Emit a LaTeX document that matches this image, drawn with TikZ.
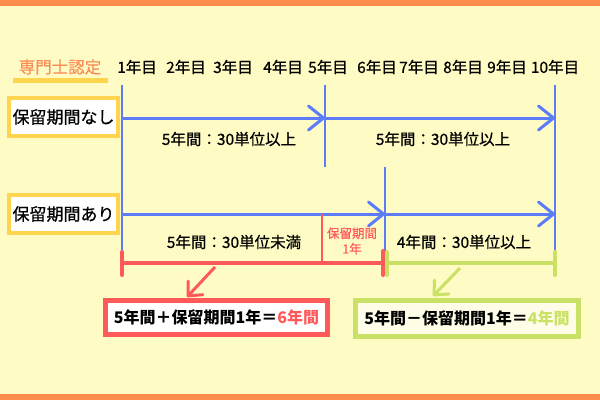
\documentclass[tikz,border=0pt]{standalone}
\usepackage{fontspec}
\setmainfont{Noto Sans CJK JP}
\newfontfamily\medfont{Noto Sans CJK JP}[FakeBold=0.6]
\usetikzlibrary{arrows.meta}
\definecolor{bgyellow}{HTML}{FFFBC4}
\definecolor{bandorange}{HTML}{FF8C4A}
\definecolor{headorange}{HTML}{FA8B55}
\definecolor{boxyellow}{HTML}{FFD550}
\definecolor{timeblue}{HTML}{5C7CFA}
\definecolor{holdred}{HTML}{FF5A5A}
\definecolor{restgreen}{HTML}{C9E265}
\begin{document}
\begin{tikzpicture}[
        x=1pt, y=-1pt,
        lbl/.style={font=\fontsize{15.5}{15.5}\selectfont\medfont, inner sep=0pt},
        rowbox/.style={draw=boxyellow, line width=4pt, fill=white, minimum width=109pt, minimum height=38pt, inner sep=0pt, font=\fontsize{17}{17}\selectfont\medfont},
        sumbox/.style={line width=5pt, inner sep=0pt, font=\fontsize{16}{16}\selectfont\bfseries},
        tline/.style={timeblue, line width=2.5pt},
        arr/.style={timeblue, line width=3pt, -{Straight Barb[length=15pt, width=24pt, round]}},
        bar/.style={line width=4pt, line cap=round},
        darr/.style={line width=3pt, -{Straight Barb[length=11pt, width=20pt, round]}}
    ]
        \fill[bgyellow] (0,0) rectangle (600,400);
        \fill[bandorange] (0,0) rectangle (600,6);
        \fill[bandorange] (0,394) rectangle (600,400);
        \useasboundingbox (0,0) rectangle (600,400);

        \node[font=\fontsize{16.5}{16.5}\selectfont\medfont, text=headorange, inner sep=0pt] (head) at (60,67) {専門士認定};
        \draw[boxyellow, line width=5pt] (13,80) -- (108,80);

        \foreach \x [count=\i] in {137,186,233,283,328,377,419,463,507,555}
            \node[lbl] (y\i) at (\x,67) {{\i}年目};

        \node[rowbox] (nohold) at (63.5,117) {保留期間なし};
        \node[rowbox] (hold) at (63.5,214) {保留期間あり};

        \coordinate (t0) at (122,85);
        \coordinate (b0) at (122,252);
        \coordinate (t5) at (325,85);
        \coordinate (b5) at (325,167);
        \coordinate (t6) at (385,167);
        \coordinate (b6) at (385,252);
        \coordinate (t10) at (555,85);
        \coordinate (b10) at (555,252);
        \draw[tline] (t0) -- (b0);
        \draw[tline] (t5) -- (b5);
        \draw[tline] (t6) -- (b6);
        \draw[tline] (t10) -- (b10);

        \coordinate (p1a) at (122,118);
        \coordinate (p1b) at (325,118);
        \coordinate (p1c) at (555,118);
        \draw[arr] (p1a) -- (p1b);
        \draw[arr] (p1b) -- (p1c);
        \node[lbl] (n1) at (229,139) {5年間：30単位以上};
        \node[lbl] (n2) at (443,139) {5年間：30単位以上};

        \coordinate (p2a) at (122,214);
        \coordinate (p2b) at (385,214);
        \coordinate (p2c) at (555,214);
        \draw[arr] (p2a) -- (p2b);
        \draw[arr] (p2b) -- (p2c);
        \node[lbl] (h1) at (234,242) {5年間：30単位未満};
        \node[lbl] (h2) at (464,242) {4年間：30単位以上};

        \coordinate (k0) at (322,214);
        \coordinate (k1) at (322,263);
        \draw[holdred, line width=1.5pt] (k0) -- (k1);
        \node[text=holdred, font=\fontsize{12.5}{12.5}\selectfont\medfont, align=center, inner sep=0pt] (keep) at (352,241) {保留期間\\[3pt]1年};

        \coordinate (ra) at (122,263);
        \coordinate (rb) at (383,263);
        \draw[bar, holdred] (ra) -- (rb);
        \draw[bar, holdred] ([yshift=11pt]ra) -- ([yshift=-12pt]ra);
        \draw[bar, holdred] ([yshift=12pt]rb) -- ([yshift=-12pt]rb);
        \coordinate (ga) at (387,263);
        \coordinate (gb) at (555,263);
        \draw[bar, restgreen] (ga) -- (gb);
        \draw[bar, restgreen] ([yshift=11pt]ga) -- ([yshift=-12pt]ga);
        \draw[bar, restgreen] ([yshift=11pt]gb) -- ([yshift=-12pt]gb);

        \node[sumbox, draw=holdred, fill=white, minimum width=222pt, minimum height=34pt] (plus) at (216.5,317.5) {5年間＋保留期間1年＝\textcolor{holdred}{6年間}};
        \node[sumbox, draw=restgreen, fill=white!60!bgyellow, minimum width=223pt, minimum height=36pt] (minus) at (467,318.5) {5年間－保留期間1年＝\textcolor{restgreen}{4年間}};

        \coordinate (rs) at (215,267);
        \coordinate (re) at (187,297);
        \coordinate (gs) at (460,268);
        \coordinate (ge) at (433,296);
        \draw[darr, holdred] (rs) -- (re);
        \draw[darr, restgreen] (gs) -- (ge);
    \end{tikzpicture}
\end{document}
